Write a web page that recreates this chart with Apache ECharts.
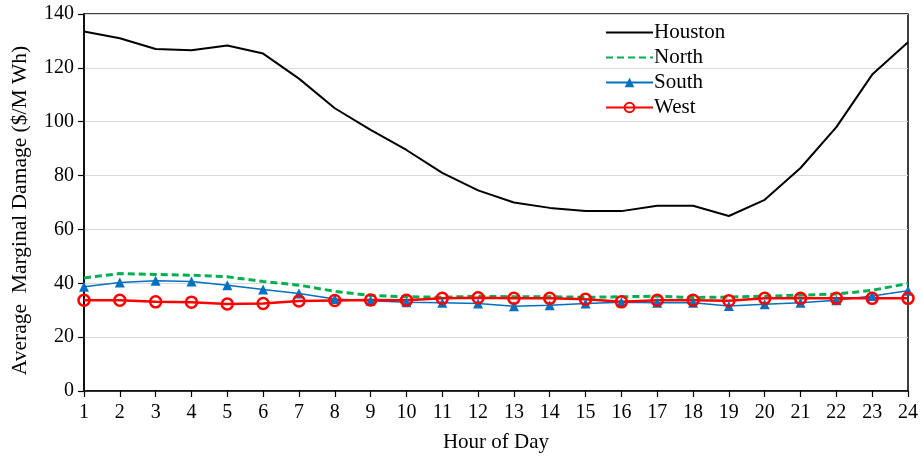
<!DOCTYPE html>
<html><head><meta charset="utf-8">
<script src="https://cdn.jsdelivr.net/npm/echarts@6/dist/echarts.min.js"></script>
<style>html,body{margin:0;padding:0;background:#fff}#c{width:922px;height:458px}</style>
</head><body><div id="c"></div>
<script>
const hours = ['1','2','3','4','5','6','7','8','9','10','11','12','13','14','15','16','17','18','19','20','21','22','23','24'];
const houston = [133.5,131,127,126.5,128.3,125.3,116,105,97,89.5,81,74.5,70,68,66.8,66.8,68.8,68.8,65,71,82.8,98,117.5,129.5];
const north = [42,43.6,43.3,43,42.4,40.7,39.3,37,35.5,35,34.8,35.2,35,35,34.8,35,35.2,34.7,34.9,35.2,35.6,36,37.4,39.9];
const south = [38.7,40.3,40.9,40.7,39.3,37.7,36.2,34.2,33.5,33,32.8,32.5,31.5,31.8,32.5,33,32.8,32.8,31.6,32.2,32.8,33.7,35.3,37.2];
const west = [33.7,33.7,33.1,33,32.3,32.5,33.4,33.6,33.8,33.7,34.4,34.6,34.4,34.4,34.1,33.1,33.7,33.7,33.5,34.4,34.4,34.4,34.4,34.4];
const yTicks = [0,20,40,60,80,100,120,140];

const font = '"Liberation Serif","Times New Roman",serif';
const chart = echarts.init(document.getElementById('c'));
chart.setOption({
  animation:false,
  grid:{left:84,right:14,top:14,bottom:65,show:true,borderColor:'#000',borderWidth:1.5},
  legend:{
    left:600, top:17, orient:'vertical', itemGap:4, itemWidth:47, itemHeight:12,
    textStyle:{fontFamily:font,fontSize:21,color:'#000',padding:[0,0,0,-4]},
    data:[
      {name:'Houston',itemStyle:{opacity:0}},
      {name:'North',itemStyle:{opacity:0}},
      {name:'South'},
      {name:'West'}
    ]
  },
  xAxis:{
    type:'category', data:hours, boundaryGap:false,
    name:'Hour of Day', nameLocation:'middle', nameGap:41,
    nameTextStyle:{fontFamily:font,fontSize:21,color:'#000'},
    axisLine:{lineStyle:{color:'#000',width:1.5}},
    axisTick:{show:true,length:6,alignWithLabel:true,lineStyle:{color:'#000',width:1.2}},
    axisLabel:{fontFamily:font,fontSize:20,color:'#000',margin:12,interval:0},
    splitLine:{show:false}
  },
  yAxis:{
    type:'value', min:0, max:140, interval:20,
    name:'Average  Marginal Damage ($/M Wh)', nameLocation:'middle', nameGap:53,
    nameTextStyle:{fontFamily:font,fontSize:21.5,color:'#000',padding:[0,16,0,0]},
    axisLine:{show:true,lineStyle:{color:'#000',width:1.5}},
    axisTick:{show:true,length:6,lineStyle:{color:'#000',width:1.2}},
    axisLabel:{fontFamily:font,fontSize:20,color:'#000',margin:10,
      formatter:v=>yTicks.includes(v)?String(v):''},
    splitLine:{show:true,lineStyle:{color:'#d9d9d9',width:1}}
  },
  series:[
    {name:'Houston',type:'line',data:houston,symbol:'none',
      lineStyle:{color:'#000',width:2},itemStyle:{color:'#000'}},
    {name:'North',type:'line',data:north,symbol:'none',
      lineStyle:{color:'#00B050',width:3,type:[7,4]},itemStyle:{color:'#00B050'}},
    {name:'South',type:'line',data:south,symbol:'triangle',symbolSize:10,
      lineStyle:{color:'#0070C0',width:1.5},itemStyle:{color:'#0070C0'}},
    {name:'West',type:'line',data:west,symbol:'circle',symbolSize:11,
      lineStyle:{color:'#FF0000',width:2.5},
      itemStyle:{color:'rgba(255,255,255,0)',borderColor:'#FF0000',borderWidth:2.5}}
  ]
});
</script></body></html>
